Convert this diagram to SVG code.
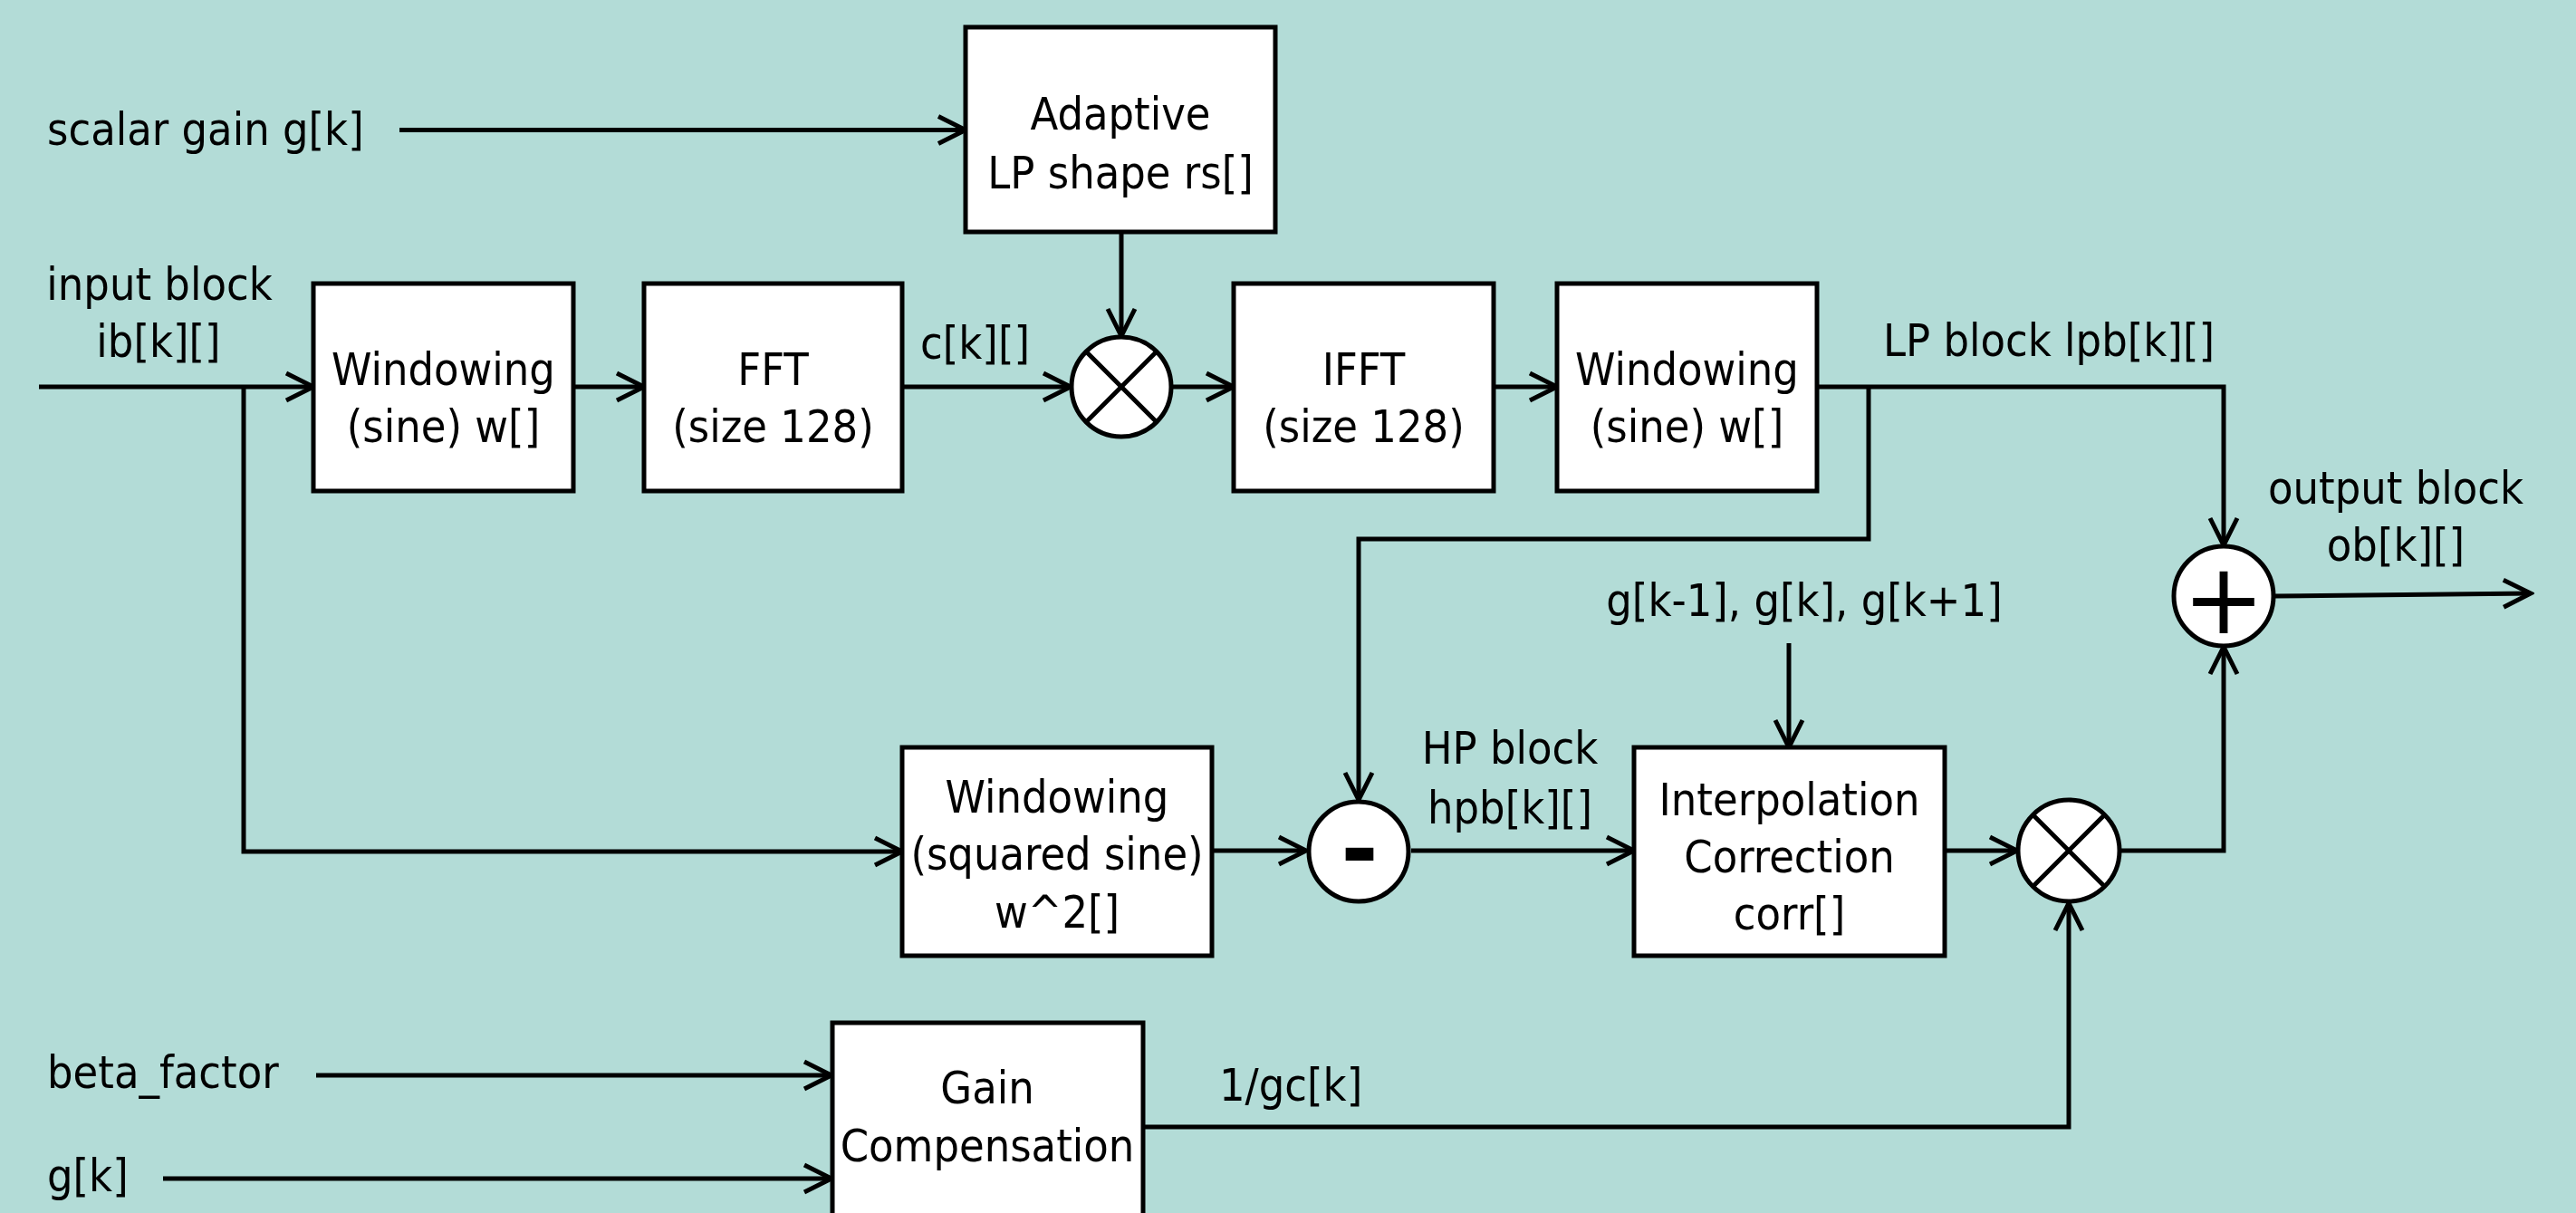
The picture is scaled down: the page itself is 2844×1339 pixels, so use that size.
<svg xmlns="http://www.w3.org/2000/svg" width="2844" height="1339" viewBox="0 0 2844 1339">
<defs>
<style>
.bg{fill:#b3dcd7}
.box{fill:#fff;stroke:#000;stroke-width:5}
.op{fill:#fff;stroke:#000;stroke-width:5}
.x{stroke:#000;stroke-width:5}
.t{font-family:"DejaVu Sans Condensed","DejaVu Sans",Verdana,sans-serif;font-stretch:condensed;font-size:50px;fill:#000}
.m{text-anchor:middle}
.sym{font-family:"DejaVu Sans",sans-serif;fill:#000;text-anchor:middle}
.c{fill:none;stroke:#000;stroke-width:5;marker-end:url(#ah)}
</style>
<marker id="ah" markerUnits="userSpaceOnUse" viewBox="-34 -18 38 36" refX="0" refY="0" markerWidth="38" markerHeight="36" orient="auto">
<path d="M-30,-15 L0,0 L-30,15" fill="none" stroke="#000" stroke-width="5"/>
</marker>
</defs>
<rect class="bg" x="0" y="0" width="2844" height="1339"/>

<g id="connectors">
<path class="c" d="M441,143.5 H1066"/>
<path class="c" d="M43,427 H346"/>
<path class="c" d="M633,427 H711"/>
<path class="c" d="M996,427 H1182"/>
<path class="c" d="M1238,256 V371"/>
<path class="c" d="M1294,427 H1362"/>
<path class="c" d="M1649,427 H1719"/>
<path class="c" d="M2006,427 H2455 V602"/>
<path class="c" d="M2063,427 V595 H1500 V883"/>
<path class="c" d="M269,427 V940 H996"/>
<path class="c" d="M1338,939 H1442"/>
<path class="c" d="M1558,939 H1804"/>
<path class="c" d="M1975,710 V825"/>
<path class="c" d="M2147,939 H2227"/>
<path class="c" d="M2341,939 H2455 V714"/>
<path class="c" d="M1262,1244 H2284 V997"/>
<path class="c" d="M349,1187 H918"/>
<path class="c" d="M180,1301 H918"/>
<path class="c" d="M2511,658 L2794,655"/>
</g>

<g id="adaptive">
<rect class="box" x="1066" y="30" width="342" height="226"/>
<text class="t m" x="1237" y="143">Adaptive</text>
<text class="t m" x="1237" y="208">LP shape rs[]</text>
</g>

<g id="win1">
<rect class="box" x="346" y="313" width="287" height="229"/>
<text class="t m" x="489.5" y="425">Windowing</text>
<text class="t m" x="489.5" y="488">(sine) w[]</text>
</g>

<g id="fft">
<rect class="box" x="711" y="313" width="285" height="229"/>
<text class="t m" x="853.5" y="425">FFT</text>
<text class="t m" x="853.5" y="488">(size 128)</text>
</g>

<g id="mult1">
<circle class="op" cx="1238" cy="427" r="55"/>
<line class="x" x1="1199" y1="388" x2="1277" y2="466"/>
<line class="x" x1="1277" y1="388" x2="1199" y2="466"/>
</g>

<g id="ifft">
<rect class="box" x="1362" y="313" width="287" height="229"/>
<text class="t m" x="1505.5" y="425">IFFT</text>
<text class="t m" x="1505.5" y="488">(size 128)</text>
</g>

<g id="win2">
<rect class="box" x="1719" y="313" width="287" height="229"/>
<text class="t m" x="1862.5" y="425">Windowing</text>
<text class="t m" x="1862.5" y="488">(sine) w[]</text>
</g>

<g id="plus">
<circle class="op" cx="2455" cy="658" r="55"/>
<text class="sym" x="2455" y="699" font-size="108">+</text>
</g>

<g id="win3">
<rect class="box" x="996" y="825" width="342" height="230"/>
<text class="t m" x="1167" y="897">Windowing</text>
<text class="t m" x="1167" y="960">(squared sine)</text>
<text class="t m" x="1167" y="1024">w^2[]</text>
</g>

<g id="minus">
<circle class="op" cx="1500" cy="940" r="55"/>
<text class="sym" x="1501" y="972" font-size="100" font-weight="bold">-</text>
</g>

<g id="interp">
<rect class="box" x="1804" y="825" width="343" height="230"/>
<text class="t m" x="1975.5" y="900">Interpolation</text>
<text class="t m" x="1975.5" y="963">Correction</text>
<text class="t m" x="1975.5" y="1026">corr[]</text>
</g>

<g id="mult2">
<circle class="op" cx="2284" cy="939" r="56"/>
<line class="x" x1="2244" y1="899" x2="2324" y2="979"/>
<line class="x" x1="2324" y1="899" x2="2244" y2="979"/>
</g>

<g id="gaincomp">
<rect class="box" x="919" y="1129" width="343" height="240"/>
<text class="t m" x="1090" y="1218">Gain</text>
<text class="t m" x="1090" y="1282">Compensation</text>
</g>

<g id="labels">
<text class="t" x="52" y="160">scalar gain g[k]</text>
<text class="t m" x="176" y="331">input block</text>
<text class="t m" x="175" y="394">ib[k][]</text>
<text class="t" x="1016" y="396">c[k][]</text>
<text class="t" x="2079" y="393">LP block lpb[k][]</text>
<text class="t m" x="2645" y="556">output block</text>
<text class="t m" x="2645" y="619">ob[k][]</text>
<text class="t m" x="1992" y="680">g[k-1], g[k], g[k+1]</text>
<text class="t m" x="1667" y="843">HP block</text>
<text class="t m" x="1667" y="909">hpb[k][]</text>
<text class="t" x="1346" y="1215">1/gc[k]</text>
<text class="t" x="52" y="1201">beta_factor</text>
<text class="t" x="52" y="1315">g[k]</text>
</g>
</svg>
